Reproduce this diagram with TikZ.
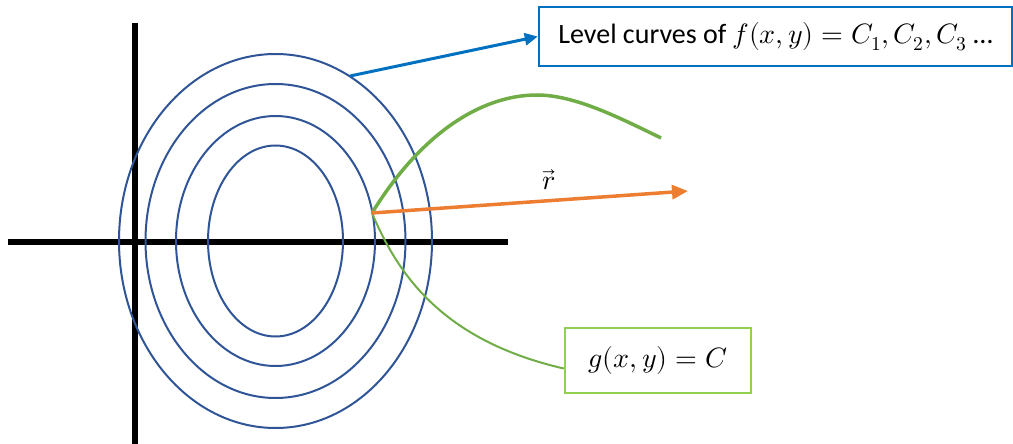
\documentclass[tikz,border=0pt]{standalone}
\usepackage{unicode-math}
\setmainfont{Carlito}
\setmathfont{Latin Modern Math}
\usetikzlibrary{arrows.meta,calc}
\definecolor{ellblue}{HTML}{2F5597}
\definecolor{lineblue}{HTML}{0070C0}
\definecolor{rorange}{HTML}{ED7D31}
\definecolor{ggreen}{HTML}{70AD47}
\definecolor{boxgreen}{HTML}{92D050}

\begin{document}
\begin{tikzpicture}[x=1pt,y=-1pt,
  axis/.style={line width=5.5pt},
  level/.style={ellblue,line width=2pt},
  labelbox/.style={line width=2.5pt,fill=white,inner sep=0pt,font=\fontsize{28}{34}\selectfont}]

\useasboundingbox (0,0) rectangle (1013,444);

\coordinate (o) at (275.5,241);

\coordinate (ytop) at (135,23);
\coordinate (ybot) at (135,444);
\coordinate (xl) at (8,242);
\coordinate (xr) at (508,242);

\coordinate (p) at (372,213);
\coordinate (q) at (350,76);
\coordinate (rend) at (688,191);
\coordinate (gend) at (661,138);

\node[labelbox,draw=lineblue,minimum width=473pt,minimum height=59pt] (lc) at (775.5,36.5) {Level curves of $f(x,y)=C_1,C_2,C_3$ …};
\node[labelbox,draw=boxgreen,minimum width=186pt,minimum height=65pt] (gc) at (658,360.5) {$g(x,y)=C$};

\draw[axis] (ytop) -- (ybot);
\draw[axis] (xl) -- (xr);

\draw[level] (o) ellipse [x radius=156.5, y radius=187];
\draw[level] (o) ellipse [x radius=130, y radius=157];
\draw[level] (o) ellipse [x radius=99.5, y radius=125];
\draw[level] (o) ellipse [x radius=67.5, y radius=95.5];

\draw[lineblue,line width=3pt,-{Triangle[length=13pt,width=12pt]}] (q) -- (lc.west);

\draw[ggreen,line width=3.5pt] (p) .. controls (420,135) and (480,95) .. (537,95)
  .. controls (575,95) and (620,118) .. (gend);
\draw[ggreen,line width=2pt] (p) .. controls (397,272) and (440,340) .. ($(gc.west)+(0,8)$);

\draw[rorange,line width=3.5pt,-{Triangle[length=16pt,width=14pt]}] (p) -- (rend)
  node[pos=0.56,above=6pt,text=black,font=\fontsize{28}{34}\selectfont] (r) {$\vec{r}$};

\end{tikzpicture}
\end{document}
